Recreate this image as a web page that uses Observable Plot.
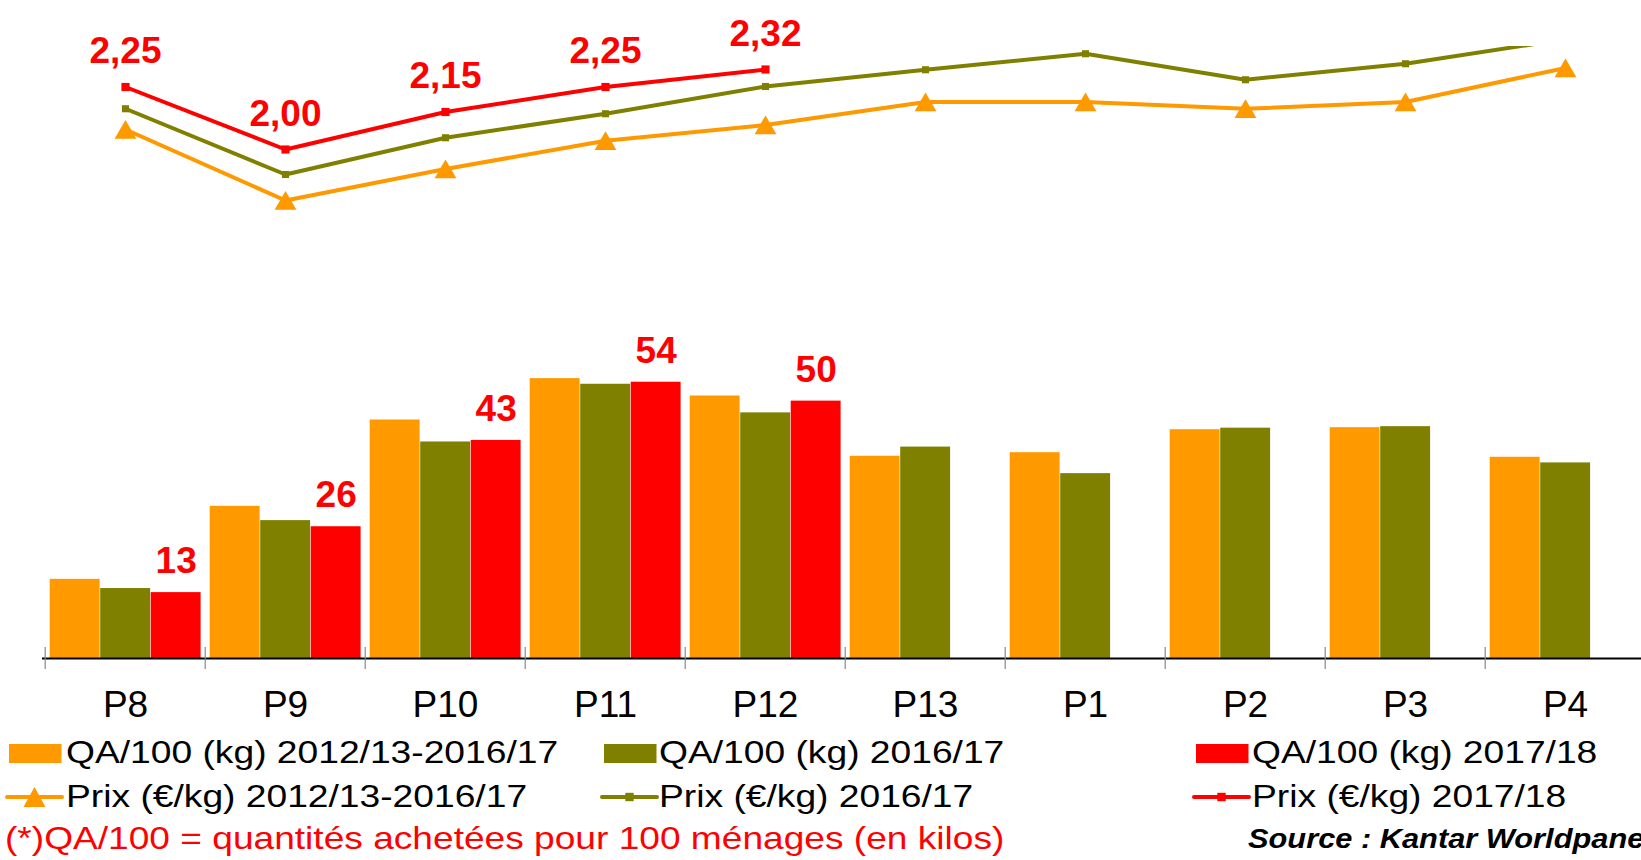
<!DOCTYPE html>
<html><head><meta charset="utf-8">
<script src="https://cdn.jsdelivr.net/npm/d3@7"></script>
<script src="https://cdn.jsdelivr.net/npm/@observablehq/plot@0.6"></script>
<style>
html,body{margin:0;padding:0;background:#fff;}
#chart{position:relative;width:1641px;height:860px;overflow:hidden;background:#fff;font-family:"Liberation Sans",Arial,Helvetica,sans-serif;}
#chart > svg{position:absolute;left:0;overflow:visible;}
</style></head><body><div id="chart"></div>
<script>
// ---- data ----
const periods = ["P8","P9","P10","P11","P12","P13","P1","P2","P3","P4"];
const qaAvg   = [15.5, 29.8, 46.7, 54.8, 51.4, 39.6, 40.3, 44.8, 45.2, 39.4];
const qa1617  = [13.7, 27.0, 42.4, 53.7, 48.1, 41.4, 36.2, 45.1, 45.4, 38.3];
const qa1718  = [12.9, 25.8, 42.7, 54.1, 50.4];
const prixAvg  = [2.08, 1.796, 1.922, 2.035, 2.098, 2.19, 2.19, 2.163, 2.19, 2.326];
const prix1617 = [2.163, 1.90, 2.047, 2.143, 2.252, 2.319, 2.383, 2.279, 2.343, 2.441];
const prix1718 = [2.25, 2.00, 2.15, 2.25, 2.32];
const barNames  = ["QA/100 (kg) 2012/13-2016/17", "QA/100 (kg) 2016/17", "QA/100 (kg) 2017/18"];
const lineNames = ["Prix (€/kg) 2012/13-2016/17", "Prix (€/kg) 2016/17", "Prix (€/kg) 2017/18"];
const colors = ["#FF9900", "#808000", "#FF0000"];
const footnote = "(*)QA/100 = quantités achetées pour 100 ménages (en kilos)";
const source = "Source : Kantar Worldpanel";

// ---- layout ----
const W = 1641, X0 = 42, X1 = 1648;
const bw = (X1 - X0) / periods.length;
const barW = 50.5, barL = 4.7;
const FONT = "Liberation Sans, Arial, Helvetica, sans-serif";
const rows = vals => vals.map((v, i) => ({period: periods[i], value: v}));
const fmtPrix = v => d3.format(".2f")(v).replace(".", ",");
const root = document.getElementById("chart");

// ---- top: prices ----
const topPlot = Plot.plot({
  width: W, height: 240, marginTop: 46, marginBottom: 0, marginLeft: X0, marginRight: 0,
  x: {type: "band", domain: periods, range: [X0, X1], padding: 0, axis: null},
  y: {domain: [1.636, 2.412], axis: null},
  style: {fontFamily: FONT, background: "transparent", overflow: "visible"},
  marks: [
    Plot.line(rows(prixAvg), {x: "period", y: "value", stroke: colors[0], strokeWidth: 4, clip: true}),
    Plot.dot(rows(prixAvg), {x: "period", y: "value", symbol: "triangle", r: 8.1, fill: colors[0], dy: 3, clip: true}),
    Plot.line(rows(prix1617), {x: "period", y: "value", stroke: colors[1], strokeWidth: 4, clip: true}),
    Plot.dot(rows(prix1617), {x: "period", y: "value", symbol: "square", r: 4, fill: colors[1], clip: true}),
    Plot.line(rows(prix1718), {x: "period", y: "value", stroke: colors[2], strokeWidth: 4, clip: true}),
    Plot.dot(rows(prix1718), {x: "period", y: "value", symbol: "square", r: 4.6, fill: colors[2], clip: true}),
    Plot.text(rows(prix1718), {x: "period", y: "value", text: d => fmtPrix(d.value), dy: -24,
      lineAnchor: "bottom", textAnchor: "middle", fontSize: 37, fontWeight: "bold", fill: colors[2]})
  ]
});
topPlot.style.top = "0px";
root.appendChild(topPlot);

// ---- bottom: quantities ----
const bottomPlot = Plot.plot({
  width: W, height: 490, marginTop: 0, marginBottom: 72, marginLeft: X0, marginRight: 0,
  x: {type: "band", domain: periods, range: [X0, X1], padding: 0, tickSize: 0, tickPadding: 32, label: null},
  y: {domain: [0, 81.85], axis: null},
  style: {fontFamily: FONT, fontSize: "37px", color: "#000", background: "transparent", overflow: "visible"},
  marks: [
    Plot.barY(rows(qaAvg), {x: "period", y: "value", fill: colors[0], insetLeft: barL, insetRight: bw - barL - barW}),
    Plot.barY(rows(qa1617), {x: "period", y: "value", fill: colors[1], insetLeft: barL + barW, insetRight: bw - barL - 2 * barW}),
    Plot.barY(rows(qa1718), {x: "period", y: "value", fill: colors[2], insetLeft: barL + 2 * barW, insetRight: bw - barL - 3 * barW}),
    Plot.ruleY([0], {stroke: "#000", strokeWidth: 2}),
    Plot.ruleX(periods, {x: d => d, y1: 0, y2: 0, dx: -bw / 2, insetTop: -11, insetBottom: -11, stroke: "#888", strokeWidth: 1.2}),
    Plot.text(rows(qa1718), {x: "period", y: "value", text: d => String(Math.round(d.value)),
      dx: barL + 2.5 * barW - bw / 2, dy: -19.6, lineAnchor: "bottom", textAnchor: "middle",
      fontSize: 37, fontWeight: "bold", fill: colors[2]})
  ]
});
bottomPlot.style.top = "240px";
root.appendChild(bottomPlot);

// ---- legend ----
const LY = 728;
const leg = d3.select(root).append("svg")
  .attr("width", W).attr("height", 860 - LY)
  .style("top", LY + "px")
  .attr("font-family", FONT);
const colSw = [9, 604, 1196], colTx = [66, 659, 1252];
barNames.forEach((name, i) => {
  leg.append("rect").attr("x", colSw[i]).attr("y", 16).attr("width", 52.5).attr("height", 19).attr("fill", colors[i]);
  leg.append("text").attr("transform", `translate(${colTx[i]},35) scale(1.2,1)`)
    .attr("font-size", 31).attr("fill", "#000").text(name);
});
lineNames.forEach((name, i) => {
  const x0 = colSw[i] - 2, x1 = colSw[i] + 53, cx = (x0 + x1) / 2, cy = 69;
  leg.append("line").attr("x1", x0).attr("x2", x1).attr("y1", cy).attr("y2", cy)
    .attr("stroke", colors[i]).attr("stroke-width", 4).attr("stroke-linecap", "round");
  if (i === 0) {
    leg.append("path").attr("d", `M${cx},${cy - 10}L${cx + 11},${cy + 10}L${cx - 11},${cy + 10}Z`).attr("fill", colors[i]);
  } else {
    leg.append("rect").attr("x", cx - 4.2).attr("y", cy - 4.2).attr("width", 8.4).attr("height", 8.4).attr("fill", colors[i]);
  }
  leg.append("text").attr("transform", `translate(${colTx[i]},79) scale(1.2,1)`)
    .attr("font-size", 31).attr("fill", "#000").text(name);
});
leg.append("text").attr("transform", "translate(5,121) scale(1.16,1)")
  .attr("font-size", 32).attr("fill", "#FF0000").text(footnote);
leg.append("text").attr("transform", "translate(1248,120) scale(1.1,1)")
  .attr("font-size", 28).attr("font-weight", "bold").attr("font-style", "italic").attr("fill", "#000").text(source);
</script>
</body></html>
